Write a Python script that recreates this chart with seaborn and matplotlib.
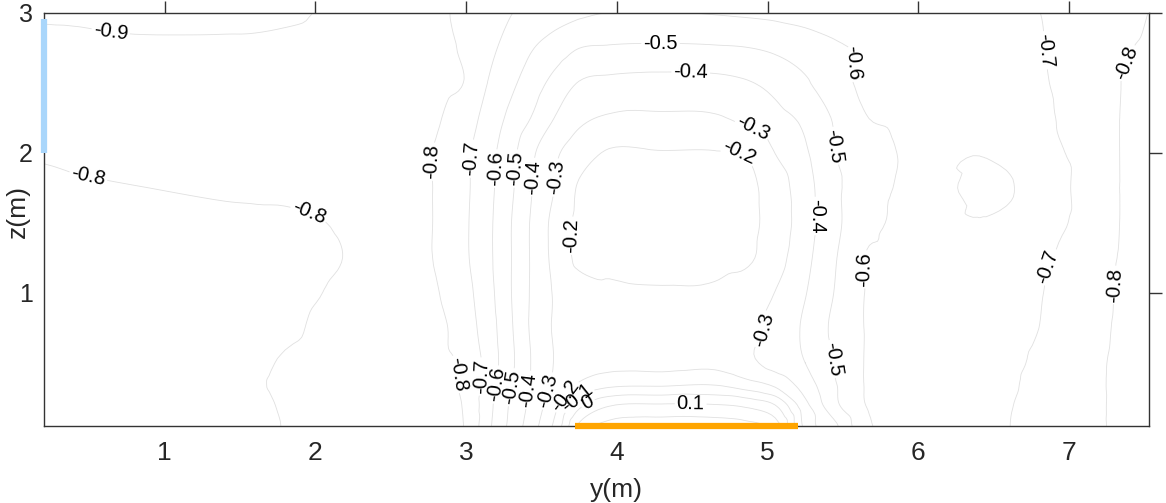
import numpy as np
import matplotlib
matplotlib.use('Agg')
import matplotlib.pyplot as plt
import matplotlib.tri as mtri
import seaborn as sns

sns.set_style('white')
plt.rcParams['font.family'] = ['Liberation Sans', 'DejaVu Sans']
plt.rcParams['contour.negative_linestyle'] = 'solid'

# grid positions (m)
y_nodes = [0.2, 0.8, 1.4, 1.8, 2.2, 2.5, 2.8, 3.0, 3.15, 3.3, 3.45, 3.6, 3.75, 3.95,
           4.3, 4.65, 4.85, 5.05, 5.25, 5.45, 5.65, 5.85, 6.1, 6.45, 6.8, 7.1, 7.35, 7.53]
z_nodes = [0.05, 0.2, 0.35, 0.5, 0.75, 1.0, 1.25, 1.5, 1.75, 2.0, 2.25, 2.5, 2.75, 3.0]

# field values, one row per z
row_z005 = [-0.76, -0.76, -0.77, -0.802, -0.82, -0.835, -0.83, -0.79, -0.62, -0.47, -0.33, -0.16, 0.12, 0.24,
            0.26, 0.26, 0.24, 0.15, -0.23, -0.383, -0.58, -0.615, -0.638, -0.679, -0.728, -0.778, -0.812, -0.822]
row_z020 = [-0.76, -0.76, -0.77, -0.805, -0.82, -0.835, -0.83, -0.785, -0.63, -0.483, -0.358, -0.22, -0.03, 0.09,
            0.11, 0.105, 0.08, 0.0, -0.27, -0.478, -0.6, -0.62, -0.644, -0.678, -0.724, -0.778, -0.812, -0.822]
row_z035 = [-0.76, -0.76, -0.775, -0.81, -0.82, -0.835, -0.83, -0.78, -0.645, -0.502, -0.375, -0.27, -0.19, -0.13,
            -0.12, -0.11, -0.16, -0.225, -0.35, -0.494, -0.604, -0.622, -0.645, -0.676, -0.718, -0.778, -0.812, -0.822]
row_z050 = [-0.765, -0.765, -0.772, -0.805, -0.82, -0.835, -0.825, -0.775, -0.66, -0.52, -0.383, -0.29, -0.25, -0.23,
            -0.235, -0.225, -0.27, -0.338, -0.4, -0.506, -0.604, -0.621, -0.643, -0.674, -0.712, -0.776, -0.812, -0.822]
row_z075 = [-0.77, -0.77, -0.775, -0.793, -0.815, -0.83, -0.825, -0.742, -0.646, -0.51, -0.373, -0.285, -0.26, -0.24,
            -0.235, -0.24, -0.262, -0.329, -0.417, -0.524, -0.603, -0.62, -0.641, -0.671, -0.70, -0.767, -0.81, -0.822]
row_z100 = [-0.775, -0.775, -0.78, -0.79, -0.808, -0.83, -0.806, -0.727, -0.631, -0.501, -0.377, -0.285, -0.245, -0.22,
            -0.21, -0.215, -0.25, -0.302, -0.395, -0.506, -0.602, -0.619, -0.639, -0.667, -0.695, -0.76, -0.808, -0.822]
row_z125 = [-0.78, -0.78, -0.785, -0.788, -0.801, -0.825, -0.795, -0.711, -0.62, -0.501, -0.377, -0.264, -0.18, -0.172,
            -0.16, -0.168, -0.18, -0.259, -0.372, -0.494, -0.603, -0.616, -0.633, -0.65, -0.685, -0.742, -0.806, -0.82]
row_z150 = [-0.785, -0.79, -0.793, -0.794, -0.805, -0.825, -0.795, -0.71, -0.62, -0.501, -0.377, -0.262, -0.18, -0.165,
            -0.15, -0.16, -0.175, -0.239, -0.356, -0.476, -0.576, -0.606, -0.612, -0.604, -0.645, -0.733, -0.803, -0.818]
row_z175 = [-0.792, -0.799, -0.805, -0.808, -0.815, -0.83, -0.795, -0.714, -0.627, -0.515, -0.393, -0.291, -0.19, -0.175,
            -0.165, -0.175, -0.175, -0.247, -0.361, -0.481, -0.55, -0.603, -0.61, -0.59, -0.625, -0.733, -0.803, -0.818]
row_z200 = [-0.805, -0.815, -0.82, -0.825, -0.83, -0.83, -0.794, -0.717, -0.633, -0.529, -0.408, -0.3125, -0.246, -0.19,
            -0.195, -0.195, -0.205, -0.301, -0.387, -0.501, -0.549, -0.599, -0.612, -0.604, -0.66, -0.733, -0.803, -0.818]
row_z225 = [-0.83, -0.835, -0.84, -0.845, -0.845, -0.845, -0.81, -0.741, -0.662, -0.572, -0.487, -0.391, -0.323, -0.29,
            -0.285, -0.29, -0.322, -0.367, -0.423, -0.513, -0.596, -0.614, -0.633, -0.659, -0.686, -0.732, -0.803, -0.818]
row_z250 = [-0.86, -0.86, -0.86, -0.865, -0.86, -0.85, -0.83, -0.793, -0.695, -0.62, -0.542, -0.463, -0.395, -0.375,
            -0.365, -0.37, -0.39, -0.429, -0.486, -0.575, -0.61, -0.624, -0.642, -0.666, -0.691, -0.74, -0.801, -0.815]
row_z275 = [-0.89, -0.89, -0.89, -0.885, -0.875, -0.86, -0.84, -0.778, -0.722, -0.663, -0.601, -0.55, -0.501, -0.49,
            -0.485, -0.49, -0.497, -0.518, -0.553, -0.588, -0.61, -0.624, -0.643, -0.669, -0.695, -0.743, -0.791, -0.81]
row_z300 = [-0.905, -0.915, -0.915, -0.91, -0.885, -0.87, -0.82, -0.774, -0.738, -0.702, -0.674, -0.646, -0.619, -0.598,
            -0.595, -0.606, -0.615, -0.624, -0.632, -0.641, -0.65, -0.658, -0.669, -0.684, -0.699, -0.741, -0.776, -0.801]

levels = [-0.9, -0.8, -0.7, -0.6, -0.5, -0.4, -0.3, -0.2, -0.1, 0.0, 0.1, 0.2]

# inlet (left wall) and outlet (floor)
inlet_y = [0.2, 0.2]
inlet_z = [2.0, 2.96]
outlet_y = [3.72, 5.2]
outlet_z = [0.05, 0.05]

# where the contour labels sit in the reference
label_spots = [(0.64, 2.85), (0.49, 1.81), (1.96, 1.58), (2.75, 1.94), (2.94, 0.42),
               (3.03, 1.96), (3.12, 0.40), (3.17, 1.89), (3.17, 0.35), (3.31, 1.89), (3.28, 0.33),
               (3.40, 1.83), (3.40, 0.31), (3.54, 1.83), (3.54, 0.30), (3.68, 1.41), (3.64, 0.28),
               (3.73, 0.26), (3.80, 0.23), (4.49, 0.19), (4.29, 2.79), (4.49, 2.57), (4.90, 2.17),
               (4.80, 1.96), (5.32, 1.55), (4.97, 0.74), (5.44, 2.05), (5.44, 0.53), (5.48, 2.67),
               (5.63, 1.17), (6.90, 2.74), (6.90, 1.17), (7.37, 2.65), (7.27, 1.06)]

field = np.array([row_z005, row_z020, row_z035, row_z050, row_z075, row_z100, row_z125,
                  row_z150, row_z175, row_z200, row_z225, row_z250, row_z275, row_z300])
Y, Z = np.meshgrid(y_nodes, z_nodes)

tri = mtri.Triangulation(Y.ravel(), Z.ravel())
interp = mtri.CubicTriInterpolator(tri, field.ravel(), kind='geom')
refiner = mtri.UniformTriRefiner(tri)
tri_f, field_f = refiner.refine_field(field.ravel(), triinterpolator=interp, subdiv=3)

fig = plt.figure(figsize=(11.66, 5.03), dpi=100)
ax = fig.add_axes([0.0377, 0.1531, 0.9477, 0.8211])

cs = ax.tricontour(tri_f, field_f, levels=levels, colors='#e0e0e0', linewidths=0.6)


def fmt(v):
    v = round(v, 1)
    return '0' if v == 0 else f'{v:g}'


ax.clabel(cs, inline=True, fontsize=14.5, fmt=fmt, inline_spacing=2, colors='black',
          manual=label_spots)

# estimator=None / sort=False so the vertical inlet segment is not collapsed
sns.lineplot(x=inlet_y, y=inlet_z, color='#a9d6fb', linewidth=4.5, ax=ax, clip_on=False,
             solid_capstyle='butt', zorder=5, estimator=None, sort=False)
sns.lineplot(x=outlet_y, y=outlet_z, color='#ffa500', linewidth=4.5, ax=ax, clip_on=False,
             solid_capstyle='butt', zorder=5, estimator=None, sort=False)

ax.set_xlim(0.2, 7.53)
ax.set_ylim(0.05, 3.0)
ax.set_xticks([1, 2, 3, 4, 5, 6, 7])
ax.set_yticks([1, 2, 3])
ax.tick_params(axis='x', direction='out', length=8.6, width=1, color='#333333', labelsize=19,
               top=True, labeltop=False, pad=2)
ax.tick_params(axis='y', direction='out', length=7, width=1, color='#333333', labelsize=18,
               right=True, labelright=False, pad=1)
for t in ax.yaxis.get_major_ticks():
    t.tick2line.set_markersize(9.5)
for sp in ax.spines.values():
    sp.set_color('#333333')
    sp.set_linewidth(1)

ax.set_xlabel('y(m)', fontsize=19)
ax.xaxis.set_label_coords(0.518, -0.125)
ax.set_ylabel('z(m)', fontsize=19)
ax.yaxis.set_label_coords(-0.0125, 0.52)

fig.savefig('out.png', dpi=100)
